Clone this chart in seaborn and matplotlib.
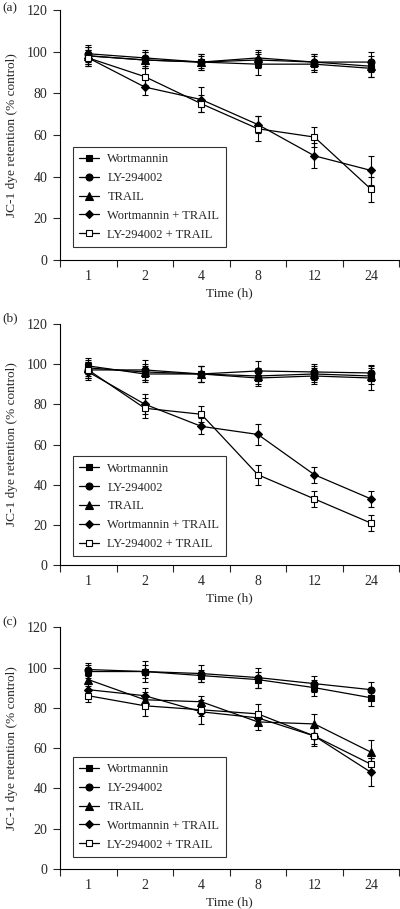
import numpy as np
import pandas as pd
import matplotlib
matplotlib.use("Agg")
import matplotlib.pyplot as plt
import seaborn as sns

# time points (categorical axis)
times = ["1", "2", "4", "8", "12", "24"]
series_names = ["Wortmannin", "LY-294002", "TRAIL", "Wortmannin + TRAIL", "LY-294002 + TRAIL"]

# panel (a)
a_wort = [98, 96, 95, 94, 94, 92]
a_ly = [99, 97, 95, 96, 95, 95]
a_trail = [98, 96, 95, 97, 95, 93]
a_wt = [97, 83, 77, 65, 50, 43]
a_lyt = [97, 88, 75, 63, 59, 34]
a_wort_err = [4, 4, 3, 5, 4, 4]
a_ly_err = [4, 4, 4, 4, 4, 5]
a_trail_err = [4, 4, 4, 4, 4, 5]
a_wt_err = [4, 4, 6, 4, 6, 7]
a_lyt_err = [4, 4, 4, 6, 5, 6]

# panel (b)
b_wort = [99, 95, 95, 93, 94, 93]
b_ly = [97, 97, 95, 96.5, 96, 95.5]
b_trail = [98, 96, 95, 94, 95, 94]
b_wt = [96, 80, 69, 65, 45, 33]
b_lyt = [97, 78, 75, 45, 33, 21]
b_wort_err = [4, 4, 4, 4, 4, 6]
b_ly_err = [4, 5, 4, 5, 4, 4]
b_trail_err = [4, 4, 4, 4, 4, 4]
b_wt_err = [4, 5, 4, 5, 4, 4]
b_lyt_err = [4, 5, 4, 5, 4, 4]

# panel (c)
c_wort = [98, 98, 96, 94, 90, 85]
c_ly = [99, 98, 97, 95, 92, 89]
c_trail = [94, 84, 83, 73, 72, 58]
c_wt = [89, 86, 78, 75, 66, 48]
c_lyt = [86, 81, 79, 77, 66, 52]
c_wort_err = [3, 5, 3, 4, 4, 4]
c_ly_err = [3, 3, 4, 5, 4, 4]
c_trail_err = [3, 4, 3, 4, 5, 6]
c_wt_err = [3, 4, 6, 3, 5, 7]
c_lyt_err = [3, 5, 3, 5, 4, 3]

panels = [
    ("(a)", [a_wort, a_ly, a_trail, a_wt, a_lyt],
     [a_wort_err, a_ly_err, a_trail_err, a_wt_err, a_lyt_err]),
    ("(b)", [b_wort, b_ly, b_trail, b_wt, b_lyt],
     [b_wort_err, b_ly_err, b_trail_err, b_wt_err, b_lyt_err]),
    ("(c)", [c_wort, c_ly, c_trail, c_wt, c_lyt],
     [c_wort_err, c_ly_err, c_trail_err, c_wt_err, c_lyt_err]),
]

markers = ["s", "o", "^", "D", "s"]
msizes = [4.6, 5.0, 5.2, 4.2, 5.0]
faces = ["black", "black", "black", "black", "white"]

sns.set_style("ticks")
plt.rcParams["font.family"] = ["Liberation Serif", "DejaVu Serif"]
plt.rcParams["font.size"] = 9.2

fig = plt.figure(figsize=(4.0, 9.09), dpi=100)

# axes rectangles (left, bottom, width, height) in figure fraction
rects = [
    (0.15, 0.714, 0.848, 0.275),
    (0.15, 0.378, 0.848, 0.266),
    (0.15, 0.044, 0.848, 0.266),
]
legend_y = [0.052, 0.037, 0.05]
label_y = [0.997, 0.657, 0.322]

for i, (tag, vals, errs) in enumerate(panels):
    ax = fig.add_axes(rects[i])
    pos = np.arange(len(times))
    for j, name in enumerate(series_names):
        df = pd.DataFrame({"pos": pos, "val": vals[j]})
        ax.errorbar(pos, vals[j], yerr=errs[j], fmt="none", ecolor="black",
                    elinewidth=0.8, capsize=2.2, capthick=0.8, zorder=2)
        sns.lineplot(data=df, x="pos", y="val", ax=ax, color="black",
                     linewidth=0.9, marker=markers[j], markersize=msizes[j],
                     markerfacecolor=faces[j], markeredgecolor="black",
                     markeredgewidth=0.8, label=name, zorder=3)

    ax.set_xlim(-0.5, 5.5)
    ax.set_ylim(0, 120)
    ax.set_yticks(range(0, 121, 20))
    ax.set_xticks(pos)
    ax.set_xticklabels(times)
    ax.set_xticks(np.arange(-0.5, 6, 1), minor=True)
    ax.tick_params(axis="x", which="major", length=0, pad=7, labelsize=10)
    ax.tick_params(axis="x", which="minor", length=5, width=0.8, direction="out")
    ax.tick_params(axis="y", length=5, width=0.8, direction="out", pad=4, labelsize=10)
    sns.despine(ax=ax)
    for sp in ["left", "bottom"]:
        ax.spines[sp].set_linewidth(0.8)
        ax.spines[sp].set_color("black")
    ax.set_xlabel("Time (h)", labelpad=3, fontsize=9.6)
    ax.set_ylabel("JC-1 dye retention (% control)", labelpad=6, fontsize=9.6)

    leg = ax.legend(loc="lower left", bbox_to_anchor=(0.038, legend_y[i]),
                    frameon=True, fancybox=False, handlelength=1.6,
                    handletextpad=0.65, labelspacing=0.55, borderpad=0.5,
                    borderaxespad=0, fontsize=9.0)
    leg.get_frame().set_edgecolor("black")
    leg.get_frame().set_linewidth(0.8)

    fig.text(0.005, label_y[i], tag, ha="left", va="top", fontsize=9.6)

fig.savefig("out.png", dpi=100)
